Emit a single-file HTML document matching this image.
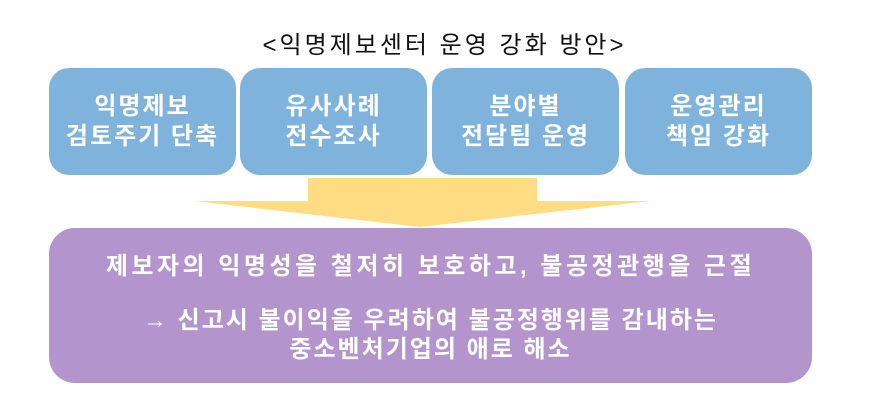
<!DOCTYPE html>
<html><head><meta charset="utf-8"><style>
body{margin:0;width:889px;height:411px;background:#fff;position:relative;overflow:hidden;font-family:"Liberation Sans","Noto Sans CJK KR",sans-serif}
.t{position:absolute;left:0;width:889px;top:31px;text-align:center;font-size:24px;line-height:30px;color:#111;letter-spacing:3px}
.b{position:absolute;top:68px;height:107px;width:187px;background:#7fb3dc;border-radius:20px;color:#fff;font-weight:bold;font-size:24px;letter-spacing:2px;line-height:30px;display:flex;align-items:center;justify-content:center;text-align:center}
.p{position:absolute;left:49px;top:228px;width:763px;height:155px;background:#b394cc;border-radius:26px;color:#fff;font-weight:bold;font-size:24px;text-align:center}
</style></head><body>
<div class="t">&lt;익명제보센터 운영 강화 방안&gt;</div>
<div class="b" style="left:49px">익명제보<br>검토주기 단축</div>
<div class="b" style="left:240px">유사사례<br>전수조사</div>
<div class="b" style="left:432px">분야별<br>전담팀 운영</div>
<div class="b" style="left:625px">운영관리<br>책임 강화</div>
<svg style="position:absolute;left:0;top:0" width="889" height="411"><polygon points="308,178 537,178 537,201 650,201 420,227 195,201 308,201" fill="#fedc84"/></svg>
<div class="p">
<div style="position:absolute;top:18px;width:100%;letter-spacing:3.5px">제보자의 익명성을 철저히 보호하고, 불공정관행을 근절</div>
<div style="position:absolute;top:78px;width:100%;line-height:29px;letter-spacing:2px">→ 신고시 불이익을 우려하여 불공정행위를 감내하는<br>중소벤처기업의 애로 해소</div>
</div>
</body></html>
